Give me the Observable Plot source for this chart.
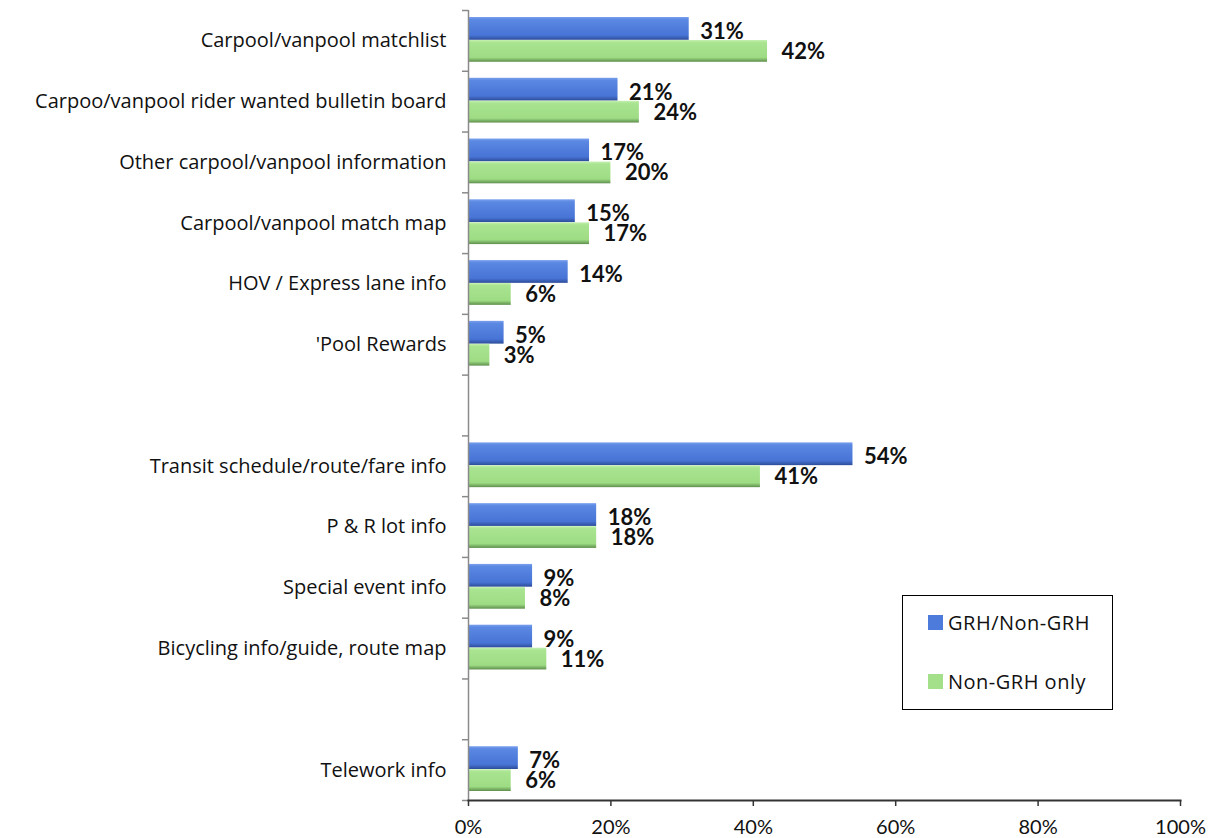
<!DOCTYPE html>
<html>
<head>
<meta charset="utf-8">
<script src="https://cdn.jsdelivr.net/npm/d3@7"></script>
<script src="https://cdn.jsdelivr.net/npm/@observablehq/plot@0.6"></script>
<style>
  body { margin: 0; background: #fff; font-family: "Open Sans", Lato, sans-serif; }
  #wrap { position: relative; width: 1210px; height: 838px; }
  #legend { position: absolute; left: 902px; top: 595px; width: 209px; height: 113px;
            border: 1.5px solid #000; background: #fff; font-size: 20px; letter-spacing: 0.5px; color: #111; }
  .item { position: absolute; left: 25px; display: flex; align-items: center; }
  .sw { width: 15px; height: 15px; margin-right: 5px; }
</style>
</head>
<body>
<svg width="0" height="0" style="position:absolute">
  <defs>
    <linearGradient id="gBlue" x1="0" y1="0" x2="0" y2="1">
      <stop offset="0" stop-color="#7aa0ee"/>
      <stop offset="0.12" stop-color="#5a88e2"/>
      <stop offset="0.8" stop-color="#4874d6"/>
      <stop offset="1" stop-color="#2c4c98"/>
    </linearGradient>
    <linearGradient id="gGreen" x1="0" y1="0" x2="0" y2="1">
      <stop offset="0" stop-color="#c4f0b0"/>
      <stop offset="0.12" stop-color="#a9e490"/>
      <stop offset="0.8" stop-color="#9edc84"/>
      <stop offset="1" stop-color="#5e8e4c"/>
    </linearGradient>
  </defs>
</svg>
<div id="wrap">
  <div id="chart"></div>
  <div id="legend">
    <div class="item" style="top:13px"><div class="sw" style="background:#4d7bdc"></div>GRH/Non-GRH</div>
    <div class="item" style="top:72px"><div class="sw" style="background:#a4e08a"></div>Non-GRH only</div>
  </div>
</div>
<script>
const categories = [
  "Carpool/vanpool matchlist",
  "Carpoo/vanpool rider wanted bulletin board",
  "Other carpool/vanpool information",
  "Carpool/vanpool match map",
  "HOV / Express lane info",
  "'Pool Rewards",
  " ",
  "Transit schedule/route/fare info",
  "P & R lot info",
  "Special event info",
  "Bicycling info/guide, route map",
  "  ",
  "Telework info"
];
const dataCategories = categories.filter(c => c.trim() !== "");
const grhValues    = [31, 21, 17, 15, 14, 5, 54, 18, 9, 9, 7];
const nonGrhValues = [42, 24, 20, 17, 6, 3, 41, 18, 8, 11, 6];
const xTicks = [0, 20, 40, 60, 80, 100];

const grh = dataCategories.map((c, i) => ({category: c, value: grhValues[i]}));
const nonGrh = dataCategories.map((c, i) => ({category: c, value: nonGrhValues[i]}));

const W = 1210, H = 838, mT = 10, mB = 38, mL = 468, mR = 30;
const band = (H - mT - mB) / categories.length;

const chart = Plot.plot({
  width: W, height: H,
  marginLeft: mL, marginRight: mR, marginTop: mT, marginBottom: mB,
  style: {fontFamily: "'Open Sans', Lato, sans-serif", fontSize: "20px", color: "#111", background: "#fff"},
  x: {domain: [0, 100], label: null},
  y: {domain: categories, padding: 0, round: false, label: null},
  marks: [
    Plot.barX(grh, {x: "value", y: "category", fill: "url(#gBlue)", insetTop: 7, insetBottom: 31}),
    Plot.barX(nonGrh, {x: "value", y: "category", fill: "url(#gGreen)", insetTop: 30, insetBottom: 9}),
    Plot.text(grh, {x: "value", y: "category", text: d => d.value + "%", textAnchor: "start",
      dx: 11, dy: -9, fontWeight: "bold", fontSize: 22, fontFamily: "Lato, sans-serif", fill: "#111"}),
    Plot.text(nonGrh, {x: "value", y: "category", text: d => d.value + "%", textAnchor: "start",
      dx: 14, dy: 11, fontWeight: "bold", fontSize: 22, fontFamily: "Lato, sans-serif", fill: "#111"}),
    Plot.ruleX([0], {stroke: "#8a8a8a", strokeWidth: 1.5}),
    Plot.axisY({tickSize: 0, tickPadding: 22, fontSize: 20, fill: "#111", label: null,
      style: {letterSpacing: "1.1px"}}),
    Plot.axisY({ticks: categories, tickSize: 6, tickFormat: null, label: null, dy: -band / 2, stroke: "#8a8a8a", strokeWidth: 1.5}),
    Plot.axisY({ticks: [categories[categories.length - 1]], tickSize: 6, tickFormat: null, label: null, dy: band / 2, stroke: "#8a8a8a", strokeWidth: 1.5}),
    Plot.frame({anchor: "bottom", stroke: "#333", strokeWidth: 2}),
    Plot.axisX({ticks: xTicks, tickFormat: d => d + "%", tickSize: 6, tickPadding: 13, label: null,
      stroke: "#333", strokeWidth: 1.5, fontSize: 20, fontFamily: "Lato, sans-serif", fill: "#111"})
  ]
});
document.getElementById("chart").appendChild(chart);
</script>
</body>
</html>
